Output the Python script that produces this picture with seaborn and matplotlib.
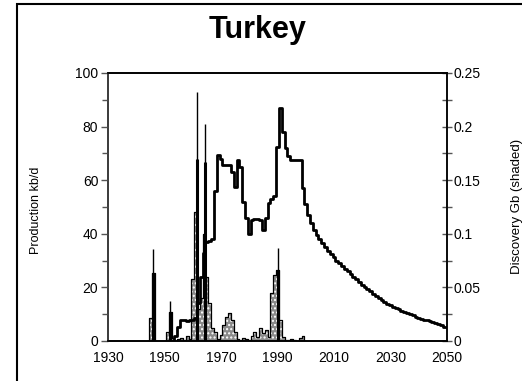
import matplotlib
matplotlib.use("Agg")
import matplotlib.pyplot as plt
import matplotlib.patches as mpatches
import seaborn as sns
import pandas as pd

# production, kb/d (left axis)
prod_years = list(range(1953, 2051))
production = [
    0, 2, 5.3, 7.8, 7.8, 7.5, 7.8, 8, 8.5, 14,           # 1953-1962
    24, 33, 37, 37.5, 38, 56, 69.5, 68, 65.5, 65.5,      # 1963-1972
    65.5, 63, 57.6, 67.5, 65, 52, 46, 40, 45, 45.5,      # 1973-1982
    45.5, 45, 41.4, 46, 51.5, 53, 54, 72.5, 86.8, 78,    # 1983-1992
    72, 69, 67.5, 67.5, 67.5, 67.5, 57, 51, 47, 44,      # 1993-2002
    41.5, 39.5, 38, 36.5, 35, 33.5, 32.5, 31.5, 30, 29,  # 2003-2012
    28, 27, 26, 25, 24, 23, 22, 21, 20.2, 19.4,          # 2013-2022
    18.5, 17.7, 16.8, 16, 15.3, 14.6, 13.9, 13.3, 12.8, 12.3,  # 2023-2032
    11.8, 11.2, 10.8, 10.4, 10, 9.6, 9.1, 8.7, 8.3, 8,   # 2033-2042
    7.7, 7.4, 7, 6.6, 6.2, 5.8, 5.4, 5.1,                # 2043-2050
]

# discovery, Gb (right axis, shaded)
disc_years = list(range(1944, 2001))
discovery = [
    0, 0.021, 0.063, 0, 0, 0, 0, 0.008, 0.027, 0.003,        # 1944-1953
    0, 0.002, 0.003, 0.001, 0.005, 0.002, 0.058, 0.12, 0.03, 0.04,  # 1954-1963
    0.1, 0.06, 0.035, 0.012, 0.008, 0.002, 0.006, 0.015, 0.022, 0.026,  # 1964-1973
    0.02, 0.008, 0.002, 0.001, 0.003, 0.002, 0.001, 0.005, 0.008, 0.004,  # 1974-1983
    0.012, 0.007, 0.01, 0.004, 0.045, 0.062, 0.066, 0.02, 0.004, 0.001,  # 1984-1993
    0.001, 0.002, 0.001, 0, 0.003, 0.005, 0,                  # 1994-2000
]
# narrow discovery peaks drawn as lines
spike_years = [1946, 1952, 1961.4, 1964.3, 1990]
spike_thick = [0.063, 0.027, 0.17, 0.167, 0.066]
spike_thin = [0.086, 0.037, 0.232, 0.202, 0.087]

df_prod = pd.DataFrame({"year": prod_years, "kbd": production})

sns.set_style("white")
plt.rcParams["font.family"] = ["Liberation Sans", "DejaVu Sans"]
plt.rcParams["hatch.linewidth"] = 1.0
plt.rcParams["text.color"] = "black"
plt.rcParams["xtick.color"] = "black"
plt.rcParams["ytick.color"] = "black"

fig = plt.figure(figsize=(5.22, 3.81), dpi=100)
ax = fig.add_axes([108 / 522, 40 / 381, 339 / 522, 268 / 381])
ax2 = ax.twinx()

# discovery (shaded)
ax2.fill_between(disc_years, discovery, step="mid", facecolor="#8a8a8a",
                 edgecolor="white", hatch="....", linewidth=0)
ax2.step(disc_years, discovery, where="mid", color="black", lw=0.9)
ax2.vlines(spike_years, 0, spike_thick, color="black", lw=2.2)
ax2.vlines(spike_years, 0, spike_thin, color="black", lw=1.0)

# production
sns.lineplot(data=df_prod, x="year", y="kbd", ax=ax, color="black",
             lw=2.0, drawstyle="steps-mid")

ax.set_zorder(ax2.get_zorder() + 1)
ax.patch.set_visible(False)

ax.set_xlim(1930, 2050)
ax.set_ylim(0, 100)
ax2.set_ylim(0, 0.25)

ax.set_xticks(range(1930, 2051, 20))
ax.set_yticks(range(0, 101, 20))
ax.set_yticks(range(10, 100, 20), minor=True)
ax2.set_yticks([0, 0.05, 0.1, 0.15, 0.2, 0.25])
ax2.set_yticklabels(["0", "0.05", "0.1", "0.15", "0.2", "0.25"])
ax2.set_yticks([0.025, 0.075, 0.125, 0.175, 0.225], minor=True)

ax.tick_params(axis="x", length=0, labelsize=10, pad=7)
ax.tick_params(axis="y", which="major", direction="out", length=5,
               width=1, labelsize=10, color="#555555", pad=2)
ax.tick_params(axis="y", which="minor", direction="out", length=4,
               width=1, color="#555555", left=True)
ax2.tick_params(axis="y", which="major", direction="inout", length=7,
                width=1, labelsize=10, color="#555555", pad=1)
ax2.tick_params(axis="y", which="minor", direction="inout", length=7,
                width=1, color="#555555", right=True)

for a in (ax, ax2):
    for s in a.spines.values():
        s.set_visible(True)
        s.set_color("black")
        s.set_linewidth(1.2)
ax.spines["left"].set_color("#444444")
ax2.spines["right"].set_color("#444444")

ax.set_xlabel("")
ax.set_ylabel("")
fig.text(36 / 522, 1 - 210 / 381, "Production kb/d", rotation=90,
         ha="center", va="center", fontsize=9)
fig.text(517 / 522, 1 - 206 / 381, "Discovery Gb (shaded)", rotation=90,
         ha="center", va="center", fontsize=9.5)
fig.text(258 / 522, 1 - 30 / 381, "Turkey", ha="center", va="center",
         fontsize=22, fontweight="bold")

# outer frame of the original chart
fig.patches.append(mpatches.Rectangle((17 / 522, -0.2), 2.0, 1.2 - 4 / 381,
                                      transform=fig.transFigure, fill=False,
                                      lw=1.5, edgecolor="black"))

fig.savefig("out.png", dpi=100)
